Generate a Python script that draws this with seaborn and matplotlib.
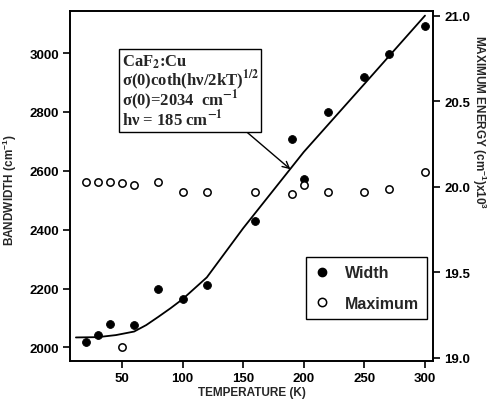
import matplotlib
matplotlib.use("Agg")
import matplotlib.pyplot as plt
import seaborn as sns
import pandas as pd
from matplotlib.lines import Line2D

# ---------------- data ----------------
width_temp = [20, 30, 40, 60, 80, 100, 120, 160, 190, 200, 220, 250, 270, 300]
width_val = [2020, 2043, 2079, 2077, 2200, 2164, 2213, 2430, 2707, 2571, 2801, 2918, 2997, 3093]
# one width point that appears hollow in the scan
width_hollow_temp = [50]
width_hollow_val = [2003]

max_temp = [20, 30, 40, 50, 60, 80, 100, 120, 160, 190, 200, 220, 250, 270, 300]
max_val = [20.03, 20.03, 20.03, 20.025, 20.01, 20.03, 19.97, 19.97, 19.97, 19.96, 20.01, 19.97, 19.97, 19.99, 20.09]

curve_temp = [12, 30, 45, 60, 70, 80, 90, 100, 120, 150, 200, 250, 300]
curve_val = [2034, 2035, 2042, 2054, 2076, 2104, 2133, 2164, 2238, 2405, 2664, 2895, 3127]

x_ticks = [50, 100, 150, 200, 250, 300]
left_ticks = [2000, 2200, 2400, 2600, 2800, 3000]
right_ticks = [19.0, 19.5, 20.0, 20.5, 21.0]

box_lines = [
    r"CaF$_{\mathbf{2}}$:Cu",
    r"σ(0)coth(hν/2kT)$^{\mathbf{1/2}}$",
    r"σ(0)=2034  cm$^{\mathbf{-1}}$",
    r"hν = 185 cm$^{\mathbf{-1}}$",
]

# ---------------- style ----------------
sns.set_theme(style="ticks")
plt.rcParams["font.family"] = ["Liberation Sans", "DejaVu Sans"]
plt.rcParams["font.weight"] = "bold"
plt.rcParams["axes.labelweight"] = "bold"
plt.rcParams["mathtext.fontset"] = "custom"
plt.rcParams["mathtext.rm"] = "Liberation Sans:bold"
plt.rcParams["mathtext.bf"] = "Liberation Sans:bold"
plt.rcParams["mathtext.it"] = "Liberation Sans:bold"

fig = plt.figure(figsize=(4.89, 4.02), dpi=100)
ax = fig.add_axes([0.1431, 0.0995, 0.7424, 0.8706])
ax2 = ax.twinx()

# curve and width points
sns.lineplot(x=curve_temp, y=curve_val, ax=ax, color="black", linewidth=1.3, zorder=2)
sns.scatterplot(x=width_temp, y=width_val, ax=ax, color="black", s=32,
                edgecolor="black", linewidth=0.6, zorder=3)
sns.scatterplot(x=width_hollow_temp, y=width_hollow_val, ax=ax, color="black",
                facecolor="white", edgecolor="black", s=28, linewidth=1.1, zorder=3)

# maximum points on right axis
sns.scatterplot(x=max_temp, y=max_val, ax=ax2, color="black", facecolor="white",
                edgecolor="black", s=28, linewidth=1.1, zorder=3)

# axes limits & ticks
ax.set_xlim(7.1, 306.6)
ax.set_ylim(1954, 3142.6)
ax2.set_ylim(18.982, 21.029)
ax.set_xticks(x_ticks)
ax.set_xticklabels([str(t) for t in x_ticks])
ax.set_yticks(left_ticks)
ax.set_yticklabels([str(t) for t in left_ticks])
ax2.set_yticks(right_ticks)
ax2.set_yticklabels([f"{t:.1f}" for t in right_ticks])

for a in (ax, ax2):
    for sp in a.spines.values():
        sp.set_visible(True)
        sp.set_color("black")
        sp.set_linewidth(1.2)
    a.tick_params(direction="out", length=5, width=1.2, colors="black",
                  labelsize=9.5, pad=3)
ax.grid(False)
ax2.grid(False)

ax.set_xlabel("TEMPERATURE (K)", fontsize=8.5, fontweight="bold")
ax.set_ylabel(r"BANDWIDTH (cm$^{-1}$)", fontsize=8.5, fontweight="bold")
ax2.set_ylabel(r"MAXIMUM ENERGY (cm$^{-1}$)x10$^{3}$", fontsize=8.5,
               fontweight="bold", rotation=-90, va="center", ha="center")
ax.xaxis.set_label_coords(0.5, -0.072)
ax.yaxis.set_label_coords(-0.14, 0.49)
ax2.yaxis.set_label_coords(1.126, 0.686)

# annotation box
ax.text(0.143, 0.882, "\n".join(box_lines), transform=ax.transAxes,
        ha="left", va="top", fontsize=12, family=["Liberation Serif"],
        fontweight="bold", linespacing=0.82, math_fontfamily="stix",
        bbox=dict(boxstyle="square,pad=0.15", fc="white", ec="black", lw=1.0),
        zorder=5)
ax.annotate("", xy=(189, 2605), xytext=(152, 2735),
            arrowprops=dict(arrowstyle="->", color="black", lw=1.0,
                            shrinkA=0, shrinkB=0))

# legend
handles = [
    Line2D([], [], marker="o", ls="", color="black", markersize=6, label="Width"),
    Line2D([], [], marker="o", ls="", markerfacecolor="white",
           markeredgecolor="black", markeredgewidth=1.1, markersize=6, label="Maximum"),
]
leg = ax2.legend(handles=handles, loc="center", bbox_to_anchor=(0.8165, 0.2085),
                 frameon=True, fancybox=False, edgecolor="black", framealpha=1,
                 prop={"weight": "bold", "size": 11.5}, handlelength=1.0,
                 handletextpad=0.9, labelspacing=0.95, borderpad=0.5)
leg.get_frame().set_linewidth(1.0)

fig.savefig("out.png", dpi=100)
